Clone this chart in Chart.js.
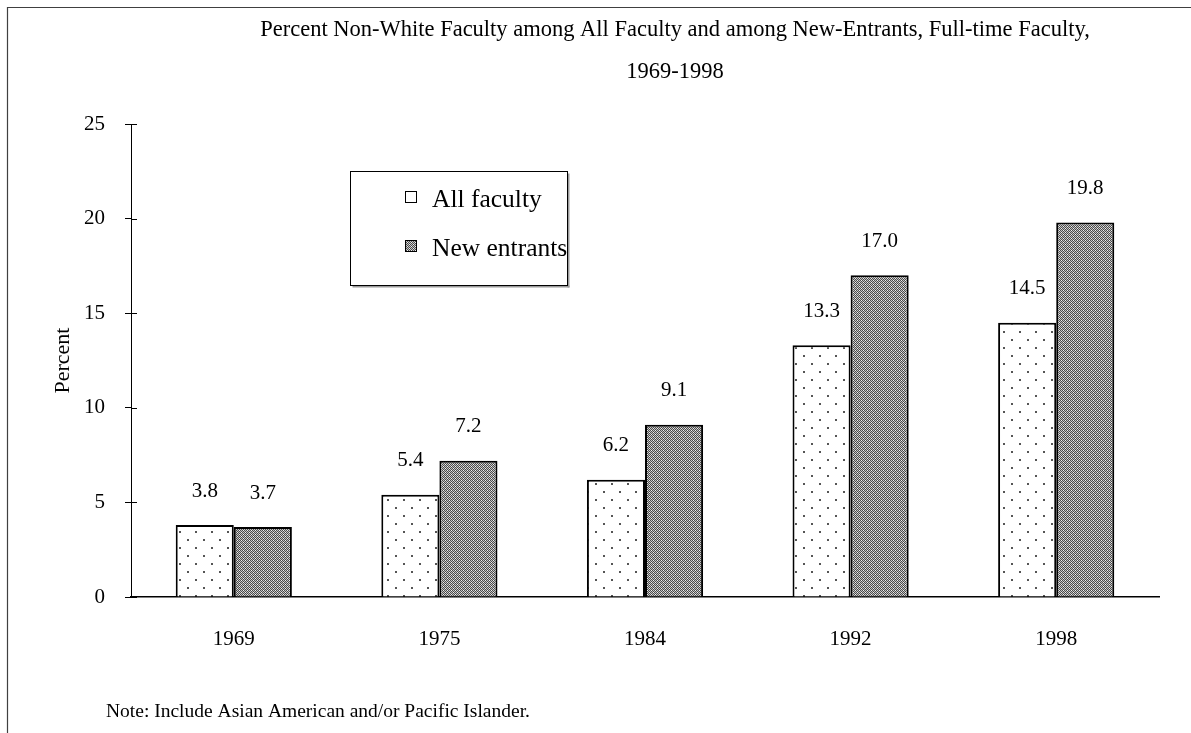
<!DOCTYPE html>
<html>
<head>
<meta charset="utf-8">
<script src="https://cdn.jsdelivr.net/npm/chart.js@4"></script>
<style>
  html, body { margin: 0; padding: 0; background: #fff; }
  #wrap { position: relative; width: 1191px; height: 733px; }
  canvas { display: block; }
</style>
</head>
<body>
<div id="wrap"><canvas id="c" width="1191" height="733"></canvas></div>
<script>
// ---- data ----
const years = ['1969', '1975', '1984', '1992', '1998'];
const allFaculty = [3.8, 5.4, 6.2, 13.3, 14.5];
const newEntrants = [3.7, 7.2, 9.1, 17.0, 19.8];
const seriesNames = ['All faculty', 'New entrants'];
const yTicks = [0, 5, 10, 15, 20, 25];
const titleLines = ['Percent Non-White Faculty among All Faculty and among New-Entrants, Full-time Faculty,', '1969-1998'];
const noteText = 'Note: Include Asian American and/or Pacific Islander.';
const yTitle = 'Percent';

const FONT = "'Liberation Serif', 'Times New Roman', serif";

// ---- patterns ----
function dotPattern() {
  const c = document.createElement('canvas');
  c.width = 16; c.height = 16;
  const g = c.getContext('2d');
  g.fillStyle = '#ffffff'; g.fillRect(0, 0, 16, 16);
  g.fillStyle = '#555555';
  g.fillRect(3, 3, 2, 2);
  g.fillRect(11, 11, 2, 2);
  return g.createPattern(c, 'repeat');
}
function checkPattern() {
  const c = document.createElement('canvas');
  c.width = 4; c.height = 4;
  const g = c.getContext('2d');
  for (let y = 0; y < 4; y++) {
    for (let x = 0; x < 4; x++) {
      g.fillStyle = ((x + y) % 2 === 0) ? '#4a4a4a' : '#c4c4c4';
      g.fillRect(x, y, 1, 1);
    }
  }
  g.fillStyle = '#f0f0f0';
  g.fillRect(1, 0, 1, 1);
  g.fillRect(3, 2, 1, 1);
  return g.createPattern(c, 'repeat');
}
const patAll = dotPattern();
const patNew = checkPattern();

// ---- custom drawing plugin ----
const decor = {
  id: 'decor',
  afterDraw(chart) {
    const ctx = chart.ctx;
    const ca = chart.chartArea;
    const ys = chart.scales.y;
    ctx.save();
    // outer frame (top + left)
    ctx.strokeStyle = '#404040';
    ctx.lineWidth = 1.2;
    ctx.beginPath();
    ctx.moveTo(7.5, 733); ctx.lineTo(7.5, 7.5); ctx.lineTo(1191, 7.5);
    ctx.stroke();

    // inner part of y ticks
    ctx.strokeStyle = '#000';
    ctx.lineWidth = 1;
    ys.ticks.forEach((t, i) => {
      const py = Math.round(ys.getPixelForTick(i)) + 0.5;
      ctx.beginPath();
      ctx.moveTo(ca.left, py); ctx.lineTo(ca.left + 6, py);
      ctx.stroke();
    });

    // title
    ctx.fillStyle = '#000';
    ctx.font = '22.5px ' + FONT;
    ctx.textAlign = 'center';
    ctx.textBaseline = 'middle';
    ctx.fillText(titleLines[0], 675, 30);
    ctx.fillText(titleLines[1], 675, 72);

    // note
    ctx.font = '19.5px ' + FONT;
    ctx.textAlign = 'left';
    ctx.fillText(noteText, 106, 712);

    // value labels
    ctx.font = '21px ' + FONT;
    ctx.textAlign = 'center';
    chart.data.datasets.forEach((ds, di) => {
      const meta = chart.getDatasetMeta(di);
      meta.data.forEach((el, i) => {
        ctx.fillText(ds.data[i].toFixed(1), el.x, el.y - 34);
      });
    });

    // legend box
    const lx = 350.5, ly = 171.5, lw = 217, lh = 114;
    ctx.fillStyle = '#9a9a9a';
    ctx.fillRect(lx + 2, ly + lh, lw, 2);
    ctx.fillRect(lx + lw, ly + 2, 2, lh);
    ctx.fillStyle = '#fff';
    ctx.fillRect(lx, ly, lw, lh);
    ctx.strokeStyle = '#000';
    ctx.lineWidth = 1;
    ctx.strokeRect(lx, ly, lw, lh);
    const rows = [197, 246];
    ctx.font = '25.5px ' + FONT;
    ctx.textAlign = 'left';
    ctx.textBaseline = 'middle';
    chart.data.datasets.forEach((ds, di) => {
      const ry = rows[di];
      ctx.fillStyle = ds.backgroundColor;
      ctx.fillRect(405, ry - 6, 12, 12);
      ctx.strokeStyle = '#000';
      ctx.lineWidth = 1;
      ctx.strokeRect(405.5, ry - 6 + 0.5, 11, 11);
      ctx.fillStyle = '#000';
      ctx.fillText(ds.label, 432, ry + 3);
    });
    ctx.restore();
  }
};

new Chart(document.getElementById('c'), {
  type: 'bar',
  data: {
    labels: years,
    datasets: [
      { label: seriesNames[0], data: allFaculty, backgroundColor: patAll, borderColor: '#000', borderWidth: 2, borderSkipped: 'bottom', barPercentage: 1.0, categoryPercentage: 0.565 },
      { label: seriesNames[1], data: newEntrants, backgroundColor: patNew, borderColor: '#000', borderWidth: 2, borderSkipped: 'bottom', barPercentage: 1.0, categoryPercentage: 0.565 }
    ]
  },
  options: {
    responsive: false,
    animation: false,
    devicePixelRatio: 1,
    layout: { padding: { left: 0, top: 124, right: 32, bottom: 0 } },
    plugins: { legend: { display: false }, title: { display: false }, tooltip: { enabled: false } },
    scales: {
      x: {
        grid: { display: false, drawTicks: false, tickLength: 0 },
        border: { display: true, color: '#000', width: 1.5 },
        ticks: { color: '#000', font: { family: FONT, size: 21 }, padding: 30, maxRotation: 0 },
        afterFit(s) { s.height = 136; }
      },
      y: {
        min: 0, max: 25,
        afterBuildTicks(s) { s.ticks = yTicks.map(v => ({ value: v })); },
        grid: { drawOnChartArea: false, drawTicks: true, tickLength: 6, color: '#000' },
        border: { display: true, color: '#000', width: 1 },
        ticks: { color: '#000', font: { family: FONT, size: 21 }, padding: 20 },
        title: { display: true, text: yTitle, color: '#000', font: { family: FONT, size: 22 }, padding: { top: 50, bottom: 0 } },
        afterFit(s) { s.width = 131; }
      }
    }
  },
  plugins: [decor]
});
</script>
</body>
</html>
